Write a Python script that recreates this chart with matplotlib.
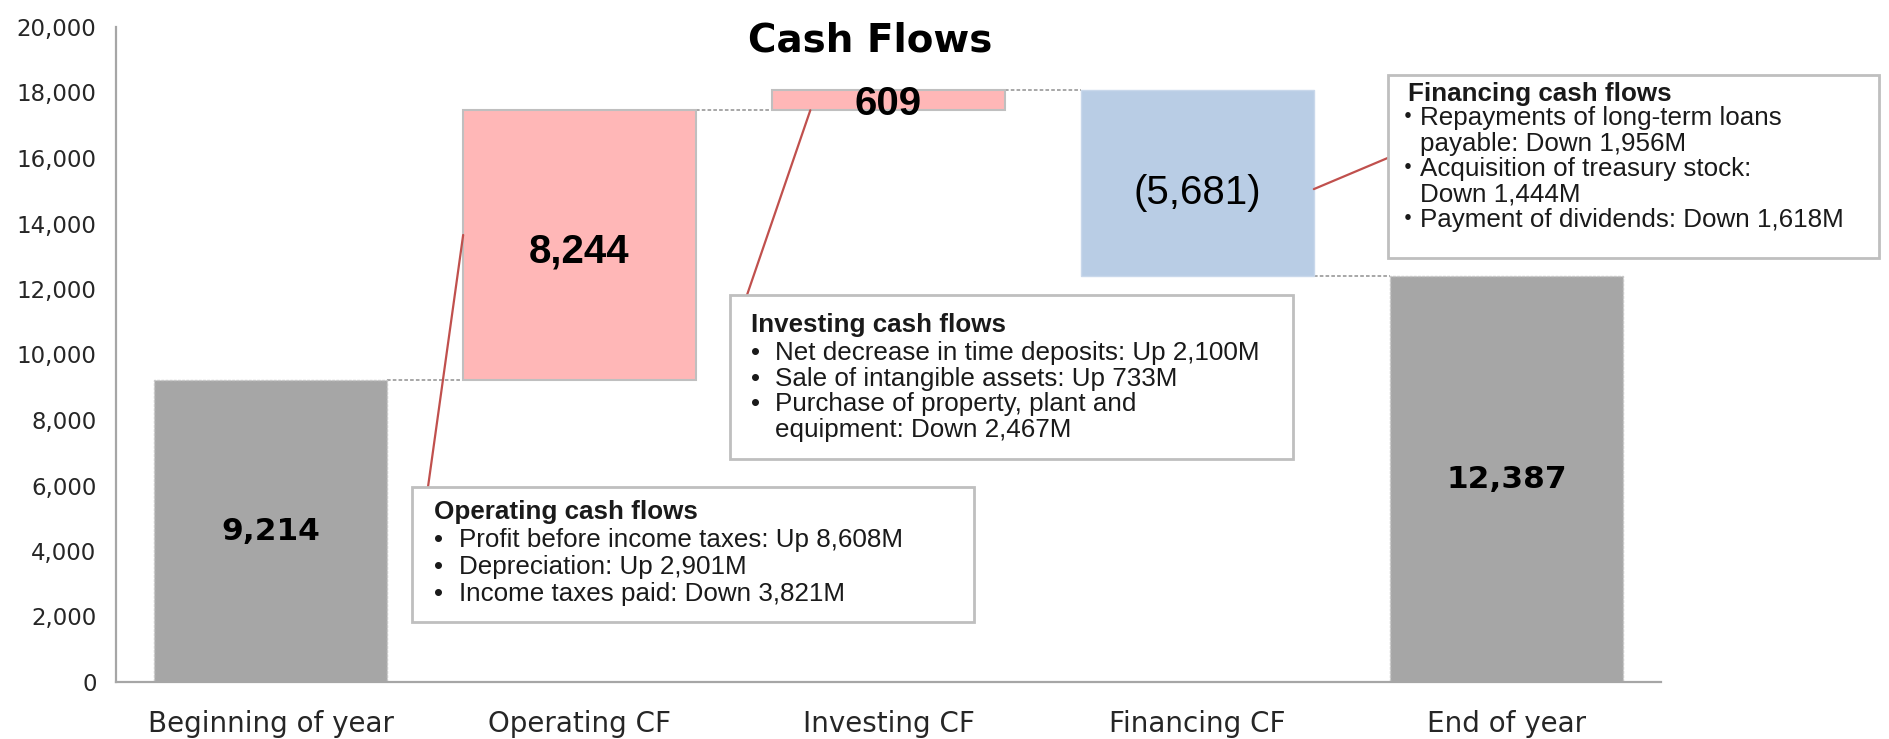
import matplotlib
matplotlib.use("Agg")
import matplotlib.pyplot as plt
from matplotlib.patches import Rectangle, ConnectionPatch
from matplotlib.ticker import FuncFormatter

# ---------------- data ----------------
categories = ["Beginning of year", "Operating CF", "Investing CF", "Financing CF", "End of year"]
values = [9214, 8244, 609, -5681, 12387]
kinds = ["total", "delta", "delta", "delta", "total"]
value_labels = ["9,214", "8,244", "609", "(5,681)", "12,387"]
yticks = list(range(0, 20001, 2000))

op_title = "Operating cash flows"
op_lines = ["Profit before income taxes: Up 8,608M",
            "Depreciation: Up 2,901M",
            "Income taxes paid: Down 3,821M"]
inv_title = "Investing cash flows"
inv_lines = ["Net decrease in time deposits: Up 2,100M",
             "Sale of intangible assets: Up 733M",
             "Purchase of property, plant and",
             "equipment: Down 2,467M"]
fin_title = "Financing cash flows"
fin_lines = ["Repayments of long-term loans",
             "payable: Down 1,956M",
             "Acquisition of treasury stock:",
             "Down 1,444M",
             "Payment of dividends: Down 1,618M"]

# ---------------- figure ----------------
W, H = 1890, 739
fig = plt.figure(figsize=(W / 100, H / 100), dpi=100)
ax = fig.add_axes([116 / W, 57 / H, 1545 / W, 655 / H])

def fx(px):
    return px / W

def fy(py):
    return 1 - py / H

GRAY = "#A6A6A6"
PINK = "#FFB7B7"
BLUE = "#B9CDE5"
RED = "#C0504D"
BOXEDGE = "#BFBFBF"
TXT = "#1a1a1a"

bw = 0.753
bottoms, heights, tops = [], [], []
running = 0
for v, k in zip(values, kinds):
    if k == "total":
        b, h = 0, v
        running = v
    else:
        if v >= 0:
            b, h = running, v
        else:
            b, h = running + v, -v
        running += v
    bottoms.append(b)
    heights.append(h)
    tops.append(running)

xs = list(range(len(categories)))
for i, (x, b, h, k, v) in enumerate(zip(xs, bottoms, heights, kinds, values)):
    if k == "total":
        ax.bar(x, h, bottom=b, width=bw, color=GRAY, edgecolor="#C8C8C8",
               linewidth=1.0, linestyle=(0, (2, 1)), zorder=2)
    elif v >= 0:
        ax.bar(x, h, bottom=b, width=bw, color=PINK, edgecolor=BOXEDGE,
               linewidth=1.5, zorder=2)
    else:
        ax.bar(x, h, bottom=b, width=bw, color=BLUE, edgecolor="#C9D8EB",
               linewidth=1.0, zorder=2)

# connectors
for i in range(len(xs) - 1):
    level = tops[i]
    ax.plot([xs[i] + bw / 2, xs[i + 1] - bw / 2], [level, level],
            color="#A0A0A0", linestyle=(0, (2, 1.2)), linewidth=1.3, zorder=1)

# value labels
label_styles = [
    dict(family="DejaVu Sans", weight="bold", size=22.5),
    dict(family="Liberation Sans", weight="bold", size=29),
    dict(family="Liberation Sans", weight="bold", size=29),
    dict(family="Liberation Sans", weight="normal", size=29),
    dict(family="DejaVu Sans", weight="bold", size=22.5),
]
label_shift = [0, -180, -120, -300, 0]
for x, b, h, lab, st, sh in zip(xs, bottoms, heights, value_labels, label_styles, label_shift):
    ax.text(x, b + h / 2 + sh, lab, ha="center", va="center", color="black",
            zorder=5, **st)

ax.set_xlim(-0.5, 4.5)
ax.set_ylim(0, 20000)
ax.set_yticks(yticks)
ax.yaxis.set_major_formatter(FuncFormatter(lambda v, p: f"{int(v):,}"))
ax.set_xticks(xs)
ax.set_xticklabels(categories)
ax.tick_params(axis="y", length=0, pad=14, labelsize=16.5, labelcolor="#262626")
ax.tick_params(axis="x", length=0, pad=20, labelsize=20, labelcolor="#262626")
for s in ["top", "right"]:
    ax.spines[s].set_visible(False)
for s in ["left", "bottom"]:
    ax.spines[s].set_color("#A6A6A6")
    ax.spines[s].set_linewidth(1.6)

fig.text(fx(870), fy(40), "Cash Flows", ha="center", va="center",
         fontsize=28, fontweight="bold", family="DejaVu Sans", color="black")

# ---------------- annotation boxes ----------------
def draw_box(x0, y0, x1, y1):
    r = Rectangle((fx(x0), fy(y1)), fx(x1) - fx(x0), fy(y0) - fy(y1),
                  transform=fig.transFigure, facecolor="white",
                  edgecolor=BOXEDGE, linewidth=2, zorder=10)
    fig.add_artist(r)

FS = 18.7
FAM = ["Liberation Sans", "Noto Sans CJK JP"]

def txt(px, py, s, bold=False):
    fig.text(fx(px), fy(py), s, ha="left", va="center", fontsize=FS,
             family=FAM, fontweight="bold" if bold else "normal",
             color=TXT, zorder=11)

# leader lines (drawn first, under boxes)
def leader(xd, yd, px, py):
    con = ConnectionPatch(xyA=(xd, yd), coordsA=ax.transData,
                          xyB=(fx(px), fy(py)), coordsB=fig.transFigure,
                          color=RED, linewidth=1.6, zorder=9)
    fig.add_artist(con)

leader(1 - bw / 2, 13650, 428, 487)
leader(1.747, tops[1], 747, 295)
leader(3 + bw / 2, 15050, 1390, 157)

# Operating box
draw_box(412, 487, 974, 622)
txt(434, 512, op_title, bold=True)
for i, s in enumerate(op_lines):
    yy = 540 + i * 27.2
    txt(434, yy, "•")
    txt(459, yy, s)

# Investing box
draw_box(730, 295, 1293, 459)
txt(751, 325, inv_title, bold=True)
inv_y = [353, 378.5, 404, 429.5]
for i, s in enumerate(inv_lines):
    if i < 3:
        txt(751, inv_y[i], "•")
    txt(775, inv_y[i], s)

# Financing box
draw_box(1388, 75, 1879, 258)
txt(1408, 94, fin_title, bold=True)
fin_y = [118, 143.5, 169, 194.5, 220.5]
for i, s in enumerate(fin_lines):
    if i in (0, 2, 4):
        txt(1395, fin_y[i], "・")
    txt(1420, fin_y[i], s)

fig.savefig("out.png", dpi=100, facecolor="white")
